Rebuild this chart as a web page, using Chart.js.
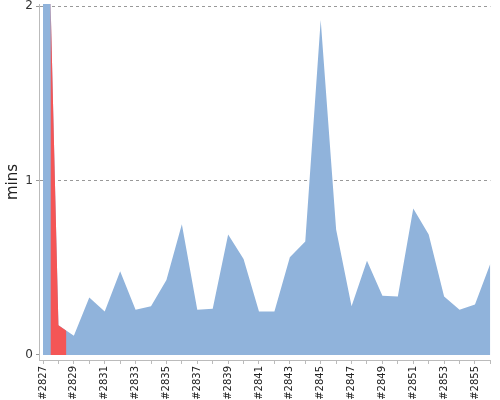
<!DOCTYPE html>
<html>
<head>
<meta charset="utf-8">
<script src="https://cdn.jsdelivr.net/npm/chart.js@4/dist/chart.umd.min.js"></script>
<style>
  html, body { margin: 0; padding: 0; background: #fff; }
  #wrap { width: 500px; height: 400px; }
</style>
</head>
<body>
<div id="wrap"><canvas id="c"></canvas></div>
<script>
const categories = ['#2827','#2828','#2829','#2830','#2831','#2832','#2833','#2834','#2835','#2836',
  '#2837','#2838','#2839','#2840','#2841','#2842','#2843','#2844','#2845','#2846',
  '#2847','#2848','#2849','#2850','#2851','#2852','#2853','#2854','#2855','#2856'];
const durations = [3.8, 0.17, 0.11, 0.33, 0.25, 0.48, 0.26, 0.28, 0.43, 0.75,
  0.26, 0.265, 0.69, 0.55, 0.25, 0.25, 0.56, 0.65, 1.92, 0.72,
  0.28, 0.54, 0.34, 0.335, 0.84, 0.69, 0.335, 0.26, 0.29, 0.525];
const yTicks = [0, 1, 2];
const highlightIndex = 1;
const yTitle = 'mins';

const highlightPlugin = {
  id: 'highlight',
  afterDatasetsDraw(chart) {
    const meta = chart.getDatasetMeta(0);
    const xs = chart.scales.x, ys = chart.scales.y;
    const ctx = chart.ctx, a = chart.chartArea;
    const x1 = xs.getPixelForValue(highlightIndex - 0.5);
    const x2 = xs.getPixelForValue(highlightIndex + 0.5);
    const y0 = ys.getPixelForValue(0);
    ctx.save();
    ctx.beginPath();
    ctx.rect(x1, a.top, x2 - x1, a.bottom - a.top);
    ctx.clip();
    ctx.beginPath();
    const pts = meta.data;
    ctx.moveTo(pts[0].x, y0);
    pts.forEach(p => ctx.lineTo(p.x, p.y));
    ctx.lineTo(pts[pts.length - 1].x, y0);
    ctx.closePath();
    ctx.fillStyle = '#f45656';
    ctx.fill();
    ctx.restore();
  }
};

new Chart(document.getElementById('c'), {
  type: 'line',
  data: {
    datasets: [{
      data: durations.map((v, i) => ({ x: i, y: v })),
      backgroundColor: '#90b3db',
      borderWidth: 0,
      borderColor: 'rgba(0,0,0,0)',
      pointRadius: 0,
      fill: 'origin',
      tension: 0
    }]
  },
  options: {
    responsive: true,
    maintainAspectRatio: false,
    animation: false,
    events: [],
    layout: { padding: { top: 4, right: 9.6, left: 0, bottom: 0 } },
    plugins: { legend: { display: false }, tooltip: { enabled: false } },
    scales: {
      x: {
        type: 'linear',
        min: -0.26,
        max: categories.length - 1,
        afterBuildTicks: s => { s.ticks = categories.map((c, i) => ({ value: i })); },
        afterFit: s => { s.height = 40; s.paddingLeft = 0; s.paddingRight = 0; },
        ticks: {
          autoSkip: false,
          minRotation: 90,
          maxRotation: 90,
          padding: 2,
          color: '#222',
          font: { family: 'DejaVu Sans', size: 10 },
          callback: v => (v % 2 === 0 ? categories[v] : '')
        },
        grid: { drawOnChartArea: false, drawTicks: true, tickLength: 4, tickColor: '#bbb' },
        border: { color: '#bbb', width: 1 }
      },
      y: {
        min: -0.0287,
        max: 2.012,
        z: 1,
        afterBuildTicks: s => { s.ticks = yTicks.map(v => ({ value: v })); },
        afterFit: s => { s.width = 39; s.paddingTop = 0; s.paddingBottom = 0; },
        ticks: {
          padding: 3,
          color: '#333',
          font: { family: 'DejaVu Sans', size: 12 },
          callback: v => String(v)
        },
        grid: {
          color: ctx => (ctx.tick && ctx.tick.value === 0 ? 'rgba(0,0,0,0)' : '#999'),
          tickColor: '#999',
          tickLength: 3,
          lineWidth: 1
        },
        border: { color: '#bbb', width: 1, dash: [3, 3] },
        title: {
          display: true,
          text: yTitle,
          color: '#222',
          font: { family: 'DejaVu Sans', size: 15 },
          padding: { top: 4, bottom: 4 }
        }
      }
    }
  },
  plugins: [highlightPlugin]
});
</script>
</body>
</html>
